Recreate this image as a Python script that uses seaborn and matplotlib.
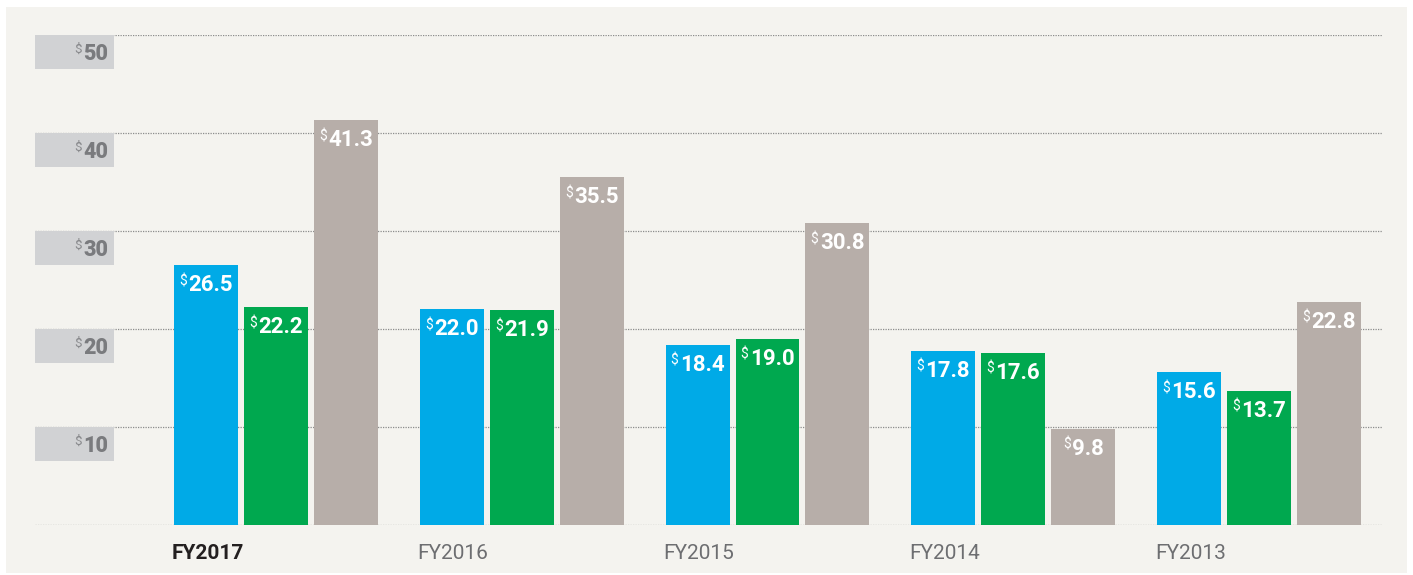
import matplotlib
matplotlib.use("Agg")
import matplotlib.pyplot as plt
import matplotlib.patches as mpatches
import matplotlib.transforms as mtrans
from matplotlib.offsetbox import TextArea, HPacker, AnnotationBbox
import seaborn as sns
import pandas as pd

# ---- data ----
years = ["FY2017", "FY2016", "FY2015", "FY2014", "FY2013"]
series = ["Series 1", "Series 2", "Series 3"]
series1 = [26.5, 22.0, 18.4, 17.8, 15.6]
series2 = [22.2, 21.9, 19.0, 17.6, 13.7]
series3 = [41.3, 35.5, 30.8, 9.8, 22.8]
yticks = [10, 20, 30, 40, 50]
gridvals = [0, 10, 20, 30, 40, 50]

colors = ["#00aae7", "#00a84f", "#b7aea9"]
BG = "#f4f3ef"

rows = []
for name, vals in zip(series, [series1, series2, series3]):
    for y, v in zip(years, vals):
        rows.append({"year": y, "series": name, "value": v})
df = pd.DataFrame(rows)

plt.rcParams["font.family"] = ["Roboto", "DejaVu Sans"]

W, H = 1413, 575
fig = plt.figure(figsize=(W / 100, H / 100), dpi=100)
fig.patch.set_facecolor("white")
fig.patches.append(mpatches.Rectangle((6 / W, 1 - 573 / H), (1407 - 6) / W, (573 - 7) / H,
                                      transform=fig.transFigure, facecolor=BG,
                                      edgecolor="none", zorder=-10))

ax_l, ax_r, ax_t, ax_b = 35, 1382, 35, 525
ax = fig.add_axes([ax_l / W, 1 - ax_b / H, (ax_r - ax_l) / W, (ax_b - ax_t) / H])
ax.set_facecolor("none")
ax.set_zorder(1)

sns.barplot(data=df, x="year", y="value", hue="series", order=years, hue_order=series,
            palette=colors, saturation=1, width=0.854, gap=0.086, legend=False, ax=ax,
            zorder=3, errorbar=None)

# scale: group period 245.75 px, group 0 center at 276 px
period = 245.75
c0 = 276
ax.set_xlim((ax_l - c0) / period, (ax_r - c0) / period)
ax.set_ylim(0, 50)

for s in ax.spines.values():
    s.set_visible(False)
ax.set_xticks([])
ax.set_yticks([])
ax.set_xlabel("")
ax.set_ylabel("")

# gridlines
for g in gridvals:
    ax.axhline(g, color="#8c8c8c", lw=0.9, ls=(0, (1, 1)), zorder=1)

# y label boxes
trans = mtrans.blended_transform_factory(ax.transAxes, ax.transData)
box_w = (114 - ax_l) / (ax_r - ax_l)
box_h = 34 / 9.8
for v in yticks:
    ax.add_patch(mpatches.Rectangle((0, v - box_h), box_w, box_h, transform=trans,
                                    facecolor="#d1d2d4", edgecolor="none", zorder=2,
                                    clip_on=False))
    pk = HPacker(children=[TextArea("$", textprops=dict(size=9.5, color="#88898c")),
                           TextArea(str(v), textprops=dict(size=15.5, color="#7a7b7e",
                                                           fontweight="heavy"))],
                 align="top", pad=0, sep=1)
    ab = AnnotationBbox(pk, ((108 - ax_l) / (ax_r - ax_l), v - 1.95), xycoords=trans,
                        box_alignment=(1, 0.5), frameon=False, zorder=4,
                        annotation_clip=False)
    ax.add_artist(ab)

# bar value labels
for cont in ax.containers:
    for p in cont.patches:
        xc = p.get_x() + p.get_width() / 2
        top = p.get_height()
        pk = HPacker(children=[TextArea("$", textprops=dict(size=10, color="white")),
                               TextArea(f"{top:.1f}", textprops=dict(size=16, color="white",
                                                                     fontweight="bold"))],
                     align="top", pad=0, sep=1)
        ab = AnnotationBbox(pk, (xc, top), xycoords="data", xybox=(0, -6.5),
                            boxcoords="offset points", box_alignment=(0.5, 1),
                            frameon=False, zorder=5, annotation_clip=False)
        ax.add_artist(ab)

# x labels aligned to left edge of first bar in each group
first = ax.containers[0]
for i, (p, y) in enumerate(zip(first.patches, years)):
    bold = i == 0
    ax.annotate(y, xy=(p.get_x(), 0), xycoords=("data", "axes fraction"),
                xytext=(-1.5, -20.5), textcoords="offset points", ha="left", va="center",
                fontsize=15, fontweight="bold" if bold else "normal",
                color="#231f20" if bold else "#6d6e71", annotation_clip=False)

fig.savefig("out.png", dpi=100, facecolor=fig.get_facecolor())
